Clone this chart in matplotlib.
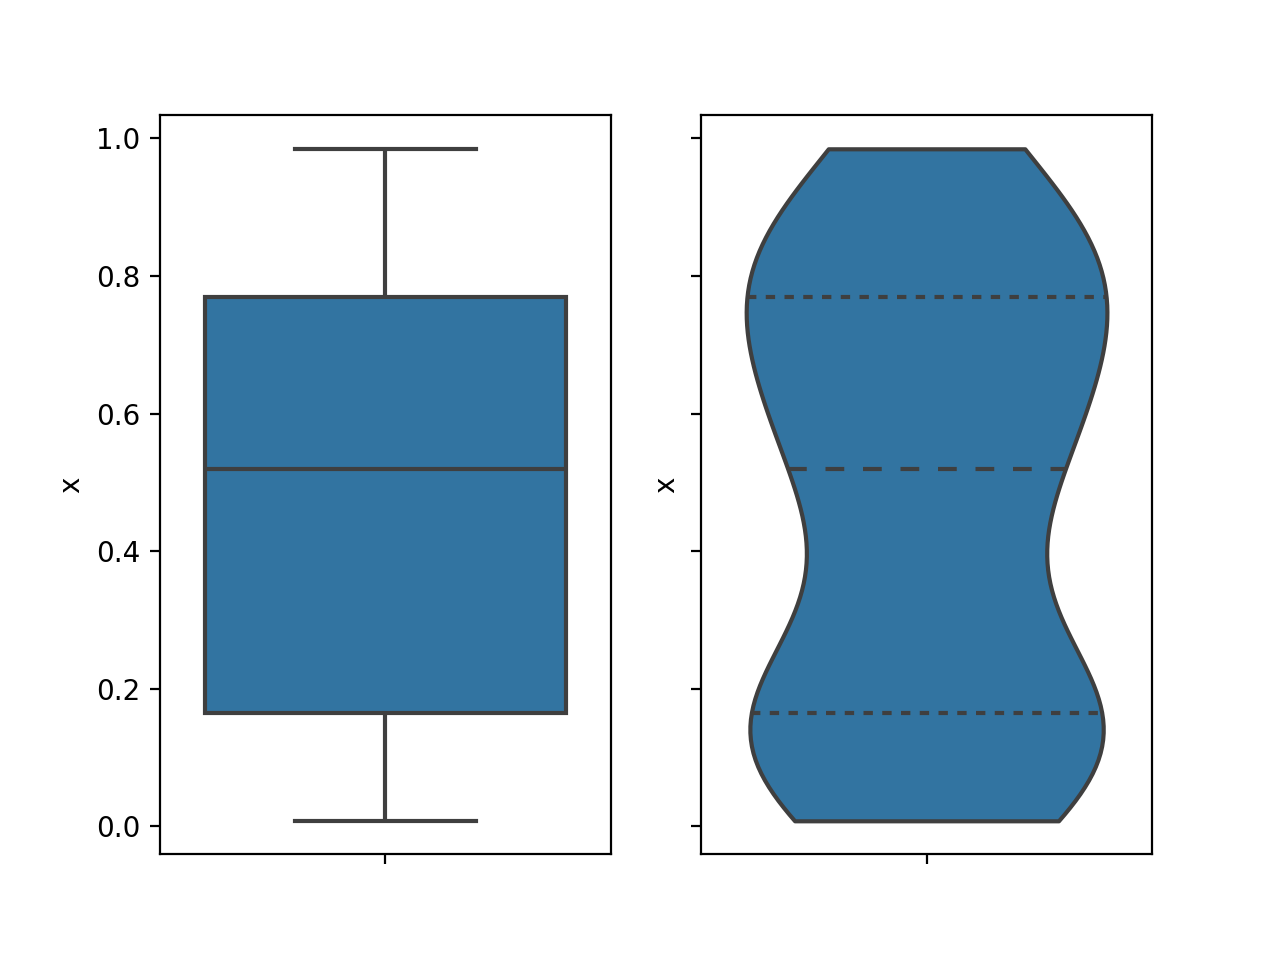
#!/usr/bin/env python3

import matplotlib

matplotlib.use("Agg")
import matplotlib.pyplot as plt
import pandas as pd
import seaborn as sns

values = [0.008, 0.09, 0.11, 0.12, 0.21, 0.23, 0.44, 0.52,
          0.59, 0.66, 0.74, 0.80, 0.83, 0.86, 0.985]
column = "x"

fill_color = "#3274a1"
line_color = "#3f3f3f"


def main() -> None:
    df = pd.DataFrame({column: values})

    fig, axes = plt.subplots(1, 2, sharey=True, figsize=(6.4, 4.8), dpi=200)

    sns.boxplot(y=column, data=df, ax=axes[0], color=fill_color, saturation=1,
                linewidth=1.5, linecolor=line_color, width=0.8)
    sns.violinplot(y=column, data=df, ax=axes[1], color=fill_color, saturation=1,
                   linewidth=1.5, linecolor=line_color, inner="quart", cut=0,
                   bw_adjust=0.75)

    # old-style quartile lines: thick, short dots for quartiles, longer dashes for median
    median = df[column].median()
    for line in axes[1].lines:
        ys = line.get_ydata()
        if len(ys) == 0:
            continue
        line.set_linewidth(1.5)
        line.set_color(line_color)
        if abs(ys[0] - median) < 1e-9:
            line.set_dashes([4.5, 4.5])
        else:
            line.set_dashes([2.25, 2.25])

    for ax in axes:
        ax.set_ylabel(column)
        ax.yaxis.label.set_visible(True)
        ax.set_xticks([0])
        ax.set_xticklabels([""])
        ax.set_xlim(-0.5, 0.5)
    axes[1].yaxis.set_tick_params(labelleft=False)

    fig.savefig("out.png", dpi=200)


if __name__ == "__main__":
    main()
